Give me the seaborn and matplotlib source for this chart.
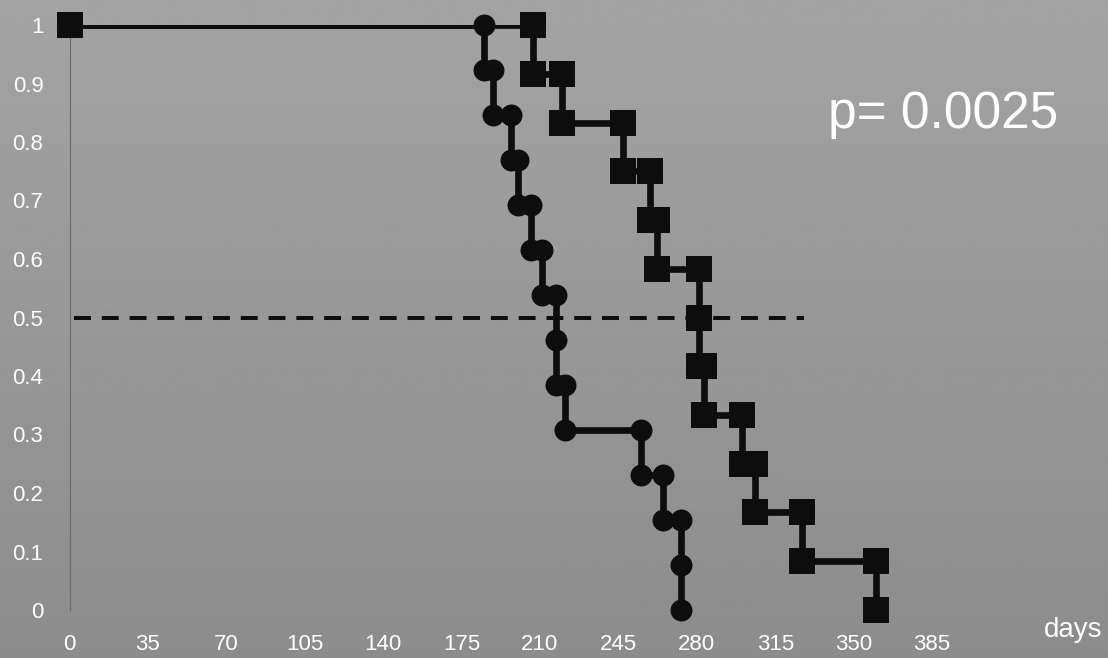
import matplotlib

matplotlib.use("Agg")
import matplotlib.pyplot as plt
import numpy as np
import seaborn as sns

# step vertices of the two survival curves (days, fraction surviving)
circle_days = [0, 185, 185, 189, 189, 197, 197, 200, 200, 206, 206, 211, 211,
               217, 217, 217, 221, 221, 255, 255, 265, 265, 273, 273, 273]
circle_surv = [1.0, 1.0, 0.923, 0.923, 0.846, 0.846, 0.769, 0.769, 0.692, 0.692,
               0.615, 0.615, 0.538, 0.538, 0.462, 0.385, 0.385, 0.308, 0.308,
               0.231, 0.231, 0.154, 0.154, 0.077, 0.0]

square_days = [0, 207, 207, 220, 220, 247, 247, 259, 259, 262, 262, 281, 281,
               281, 283, 283, 300, 300, 306, 306, 327, 327, 360, 360]
square_surv = [1.0, 1.0, 0.917, 0.917, 0.833, 0.833, 0.75, 0.75, 0.667, 0.667,
               0.583, 0.583, 0.5, 0.417, 0.417, 0.333, 0.333, 0.25, 0.25, 0.167,
               0.167, 0.083, 0.083, 0.0]

median_level = 0.5
median_from, median_to = 2, 328

x_ticks = [0, 35, 70, 105, 140, 175, 210, 245, 280, 315, 350, 385]
y_ticks = [0, 0.1, 0.2, 0.3, 0.4, 0.5, 0.6, 0.7, 0.8, 0.9, 1.0]
y_tick_labels = ["0", "0.1", "0.2", "0.3", "0.4", "0.5", "0.6", "0.7", "0.8", "0.9", "1"]
p_text = "p= 0.0025"
x_unit = "days"

sns.set_style("white")
plt.rcParams["font.family"] = ["Liberation Sans", "DejaVu Sans"]

fig = plt.figure(figsize=(11.08, 6.58), dpi=100)

# grey slide-like background with a soft vertical gradient
bg = fig.add_axes([0, 0, 1, 1], zorder=-1)
grad = np.linspace(0.64, 0.55, 256).reshape(-1, 1)
bg.imshow(grad, aspect="auto", cmap="gray", vmin=0, vmax=1, extent=[0, 1, 0, 1])
bg.set_axis_off()

ax = fig.add_axes([69.5 / 1108, 48 / 658, 941 / 1108, 585 / 658])
ax.set_facecolor("none")

sns.lineplot(x=circle_days, y=circle_surv, sort=False, estimator=None,
             color="#0d0d0d", linewidth=4.8, ax=ax)
sns.scatterplot(x=circle_days, y=circle_surv, marker="o", s=250, color="#0d0d0d",
                linewidth=0, clip_on=False, zorder=3, ax=ax)

sns.lineplot(x=square_days, y=square_surv, sort=False, estimator=None,
             color="#0d0d0d", linewidth=4.8, ax=ax)
sns.scatterplot(x=square_days, y=square_surv, marker="s", s=350, color="#0d0d0d",
                linewidth=0, clip_on=False, zorder=4, ax=ax)

ax.hlines(median_level, median_from, median_to, colors="#0d0d0d", linewidth=2.9,
          linestyles=(0, (4.2, 2.7)), zorder=2)

ax.set_xlim(0, 420)
ax.set_ylim(0, 1)
ax.set_xticks(x_ticks)
ax.set_xticklabels([str(t) for t in x_ticks])
ax.set_yticks(y_ticks)
ax.set_yticklabels(y_tick_labels)
ax.set_xlabel("")
ax.set_ylabel("")

for side in ["top", "right", "bottom"]:
    ax.spines[side].set_visible(False)
ax.spines["left"].set_color("#6a6a6a")
ax.spines["left"].set_linewidth(0.8)

ax.tick_params(axis="y", direction="out", length=4.3, width=0.8, color="#6a6a6a",
               pad=14.5, labelsize=16, labelcolor="white")
ax.tick_params(axis="x", length=0, pad=17, labelsize=16, labelcolor="white")

fig.text(828 / 1108, (658 - 128) / 658, p_text, color="white", fontsize=37,
         ha="left", va="baseline")
fig.text(1102 / 1108, (658 - 637) / 658, x_unit, color="white", fontsize=20,
         ha="right", va="baseline")

fig.savefig("out.png", dpi=100)
plt.close(fig)
